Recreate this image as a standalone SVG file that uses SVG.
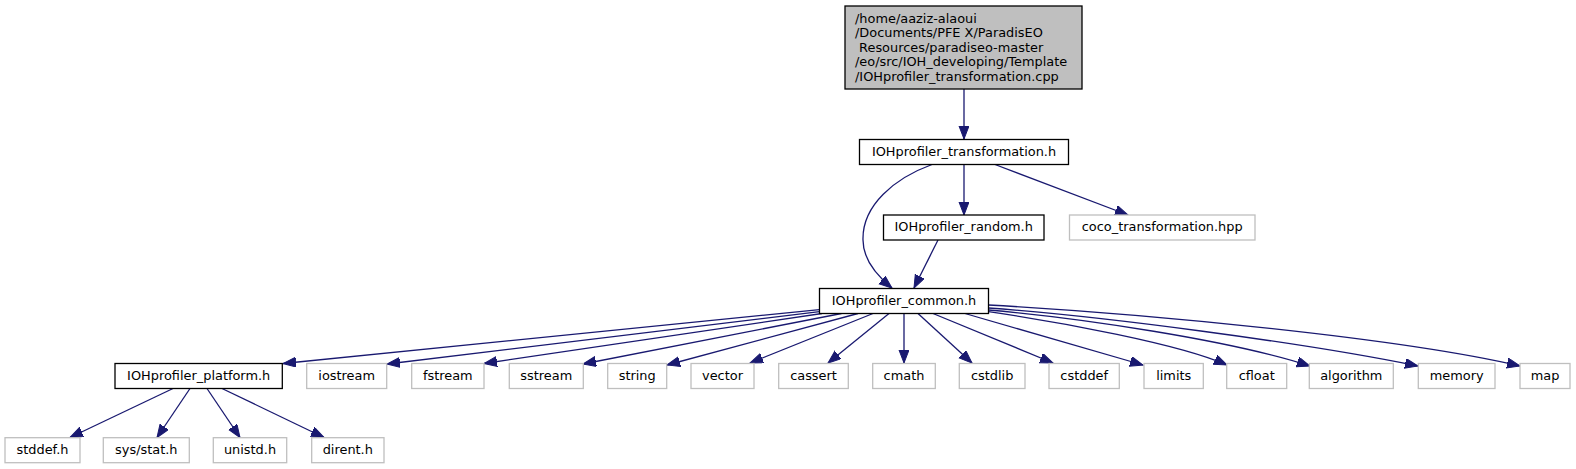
<svg xmlns="http://www.w3.org/2000/svg" width="1576" height="469" viewBox="0 0 1576 469">
<defs>
<marker id="arr" markerUnits="userSpaceOnUse" markerWidth="15" markerHeight="12" refX="13" refY="5" orient="auto">
<path d="M0,0 L13,5 L0,10 z" fill="#191970" stroke="#191970" stroke-width="1"/>
</marker>
<style>
.n rect{fill:#fff;stroke:#000;stroke-width:1.3}
.x rect{fill:#fff;stroke:#bfbfbf;stroke-width:1.3}
.top rect{fill:#bfbfbf;stroke:#000;stroke-width:1.3}
text{font-family:"DejaVu Sans","Liberation Sans",sans-serif;font-size:12.9px;fill:#000}
.c text{text-anchor:middle}
#edges path{fill:none;stroke:#191970;stroke-width:1.3;marker-end:url(#arr)}
</style>
</defs>
<rect width="1576" height="469" fill="#fff"/>
<g id="edges">
<path d="M964,89 L964,139"/>
<path d="M964,164.5 L964,215"/>
<path d="M995,164.5 L1128,215"/>
<path d="M932,164.5 C895,178 862,205 863,240 C863,258 876,275 892,288"/>
<path d="M938,240 L914,288"/>
<path d="M819.5,309.6 L283,363.5"/>
<path d="M819.5,311.6 L387,364"/>
<path d="M822,313.5 L484,363.5"/>
<path d="M841.5,313.5 L583,364"/>
<path d="M858,313.5 L667,365"/>
<path d="M873,313.5 L750,363"/>
<path d="M889,313.5 L828,363"/>
<path d="M904,313.5 L904,363"/>
<path d="M918,313.5 L972,363"/>
<path d="M933,313.5 L1053,363"/>
<path d="M965,313.5 L1143,365"/>
<path d="M988.5,311.7 C1060,322 1180,344 1227,365"/>
<path d="M988.5,310 C1080,318 1230,340 1310,366"/>
<path d="M988.5,308 C1100,316 1300,342 1418,366"/>
<path d="M988.5,305 C1150,314 1400,338 1520,366"/>
<path d="M173,388.5 L70,437.5"/>
<path d="M190,388.5 L157,437.5"/>
<path d="M207,388.5 L240,437.5"/>
<path d="M222,388.5 L324,437.5"/>
</g>
<g id="n_top" class="top">
<rect x="845" y="6" width="237" height="83"/>
<text x="855" y="22.5">/home/aaziz-alaoui</text>
<text x="855" y="37.1">/Documents/PFE X/ParadisEO</text>
<text x="855" y="51.7" xml:space="preserve"> Resources/paradiseo-master</text>
<text x="855" y="66.3">/eo/src/IOH_developing/Template</text>
<text x="855" y="80.9">/IOHprofiler_transformation.cpp</text>
</g>
<g id="n_transformation" class="n c">
<rect x="859.5" y="139.5" width="209" height="25"/>
<text x="964" y="155.5">IOHprofiler_transformation.h</text>
</g>
<g id="n_random" class="n c">
<rect x="883.5" y="215" width="160.5" height="25"/>
<text x="963.7" y="231">IOHprofiler_random.h</text>
</g>
<g id="n_coco" class="x c">
<rect x="1069.5" y="215" width="185.5" height="25"/>
<text x="1162.2" y="231">coco_transformation.hpp</text>
</g>
<g id="n_common" class="n c">
<rect x="819.5" y="288.5" width="169" height="25"/>
<text x="904" y="304.5">IOHprofiler_common.h</text>
</g>
<g id="n_platform" class="n c">
<rect x="115" y="363.5" width="167.3" height="25"/>
<text x="198.7" y="379.5">IOHprofiler_platform.h</text>
</g>
<g id="n_iostream" class="x c"><rect x="306.7" y="363.5" width="80" height="25"/><text x="346.7" y="379.5">iostream</text></g>
<g id="n_fstream" class="x c"><rect x="411.7" y="363.5" width="72.3" height="25"/><text x="447.8" y="379.5">fstream</text></g>
<g id="n_sstream" class="x c"><rect x="509.3" y="363.5" width="74" height="25"/><text x="546.3" y="379.5">sstream</text></g>
<g id="n_string" class="x c"><rect x="607.7" y="363.5" width="59" height="25"/><text x="637.2" y="379.5">string</text></g>
<g id="n_vector" class="x c"><rect x="691" y="363.5" width="63" height="25"/><text x="722.5" y="379.5">vector</text></g>
<g id="n_cassert" class="x c"><rect x="778.7" y="363.5" width="69.6" height="25"/><text x="813.5" y="379.5">cassert</text></g>
<g id="n_cmath" class="x c"><rect x="872.7" y="363.5" width="62.6" height="25"/><text x="904" y="379.5">cmath</text></g>
<g id="n_cstdlib" class="x c"><rect x="959.3" y="363.5" width="65.7" height="25"/><text x="992.2" y="379.5">cstdlib</text></g>
<g id="n_cstddef" class="x c"><rect x="1049" y="363.5" width="70.3" height="25"/><text x="1084.2" y="379.5">cstddef</text></g>
<g id="n_limits" class="x c"><rect x="1144" y="363.5" width="59.3" height="25"/><text x="1173.7" y="379.5">limits</text></g>
<g id="n_cfloat" class="x c"><rect x="1226.7" y="363.5" width="60" height="25"/><text x="1256.7" y="379.5">cfloat</text></g>
<g id="n_algorithm" class="x c"><rect x="1309.3" y="363.5" width="84" height="25"/><text x="1351.3" y="379.5">algorithm</text></g>
<g id="n_memory" class="x c"><rect x="1418.3" y="363.5" width="76.7" height="25"/><text x="1456.7" y="379.5">memory</text></g>
<g id="n_map" class="x c"><rect x="1520" y="363.5" width="50" height="25"/><text x="1545" y="379.5">map</text></g>
<g id="n_stddef" class="x c"><rect x="5" y="437.7" width="75" height="25"/><text x="42.5" y="453.7">stddef.h</text></g>
<g id="n_sysstat" class="x c"><rect x="103.3" y="437.7" width="86" height="25"/><text x="146.3" y="453.7">sys/stat.h</text></g>
<g id="n_unistd" class="x c"><rect x="213.3" y="437.7" width="73.4" height="25"/><text x="250" y="453.7">unistd.h</text></g>
<g id="n_dirent" class="x c"><rect x="311.7" y="437.7" width="72.3" height="25"/><text x="347.8" y="453.7">dirent.h</text></g>
</svg>
